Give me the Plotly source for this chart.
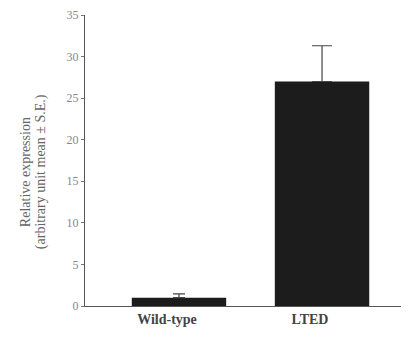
import plotly.graph_objects as go

categories = ["Wild-type", "LTED"]
values = [1.0, 27.0]
errors = [0.45, 4.3]
y_ticks = [0, 5, 10, 15, 20, 25, 30, 35]
cap_widths = [6, 10]

fig = go.Figure()
for i, (c, v, e, cw) in enumerate(zip(categories, values, errors, cap_widths)):
    fig.add_trace(go.Bar(
        x=[i], y=[v],
        width=0.66,
        marker=dict(color="#1c1c1c", line=dict(width=0)),
        error_y=dict(type="data", array=[e], symmetric=False, arrayminus=[0],
                     color="#444444", thickness=1.2, width=cw),
    ))

font_fam = "Liberation Serif, Times New Roman, serif"
fig.update_layout(
    width=401, height=329,
    margin=dict(l=77, r=4, t=7, b=31, autoexpand=False),
    paper_bgcolor="white", plot_bgcolor="white",
    showlegend=False,
    font=dict(family=font_fam, color="#555555"),
    xaxis=dict(
        range=[-0.657, 1.58], tickvals=[0, 1], ticktext=["<b>" + c + "</b>" for c in categories],
        showline=True, linecolor="#555555", linewidth=1.2, ticks="",
        showgrid=False, zeroline=False, automargin=False, ticklabelshift=-12,
        tickfont=dict(size=14, color="#444444"),
    ),
    yaxis=dict(
        range=[0, 35], tickvals=y_ticks, showline=True, linecolor="#555555", linewidth=1.2,
        ticks="outside", ticklen=3, tickcolor="#777777", showgrid=False, zeroline=False,
        automargin=False,
        tickfont=dict(size=12, color="#888888"),
    ),
    annotations=[
        dict(text="Relative expression", textangle=-90, xref="paper", yref="paper",
             x=0, y=0.46, xanchor="center", yanchor="middle", xshift=-60, showarrow=False,
             font=dict(size=14, color="#666666", family=font_fam)),
        dict(text="(arbitrary unit mean ± S.E.)", textangle=-90, xref="paper", yref="paper",
             x=0, y=0.46, xanchor="center", yanchor="middle", xshift=-44, showarrow=False,
             font=dict(size=14, color="#666666", family=font_fam)),
    ],
)
fig.write_html("out.html")
